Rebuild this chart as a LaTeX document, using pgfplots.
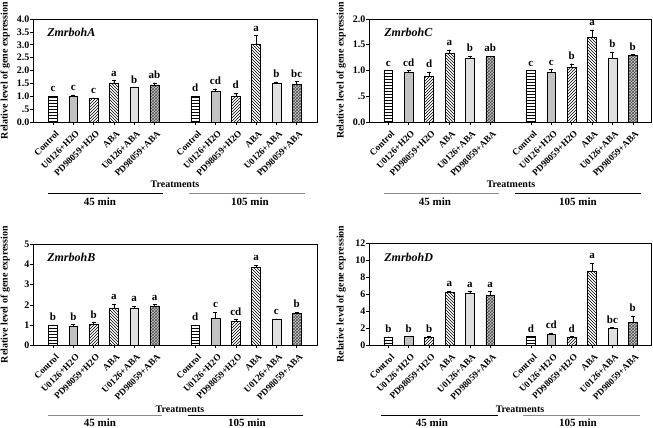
\documentclass[border=0pt]{standalone}
\usepackage{fontspec}
\setmainfont{Liberation Serif}
\usepackage{pgfplots}
\pgfplotsset{compat=1.18}
\usetikzlibrary{patterns}

\newcommand\fTick{\fontsize{10}{11}\selectfont\bfseries}
\newcommand\fCat{\fontsize{9.2}{10}\selectfont\bfseries}
\newcommand\fLab{\fontsize{10}{11}\selectfont\bfseries}
\newcommand\fLet{\fontsize{11}{12}\selectfont\bfseries}
\newcommand\fTit{\fontsize{12}{13}\selectfont\bfseries\itshape}
\newcommand\fMin{\fontsize{11}{12}\selectfont\bfseries}

\pgfplotsset{
  panel/.style={
    scale only axis, anchor=south west, ybar, bar width=0.43, bar shift=0pt,
    axis line style={line width=0.6pt},
    tick pos=left, tick align=outside, major tick length=3pt,
    tick style={line width=0.5pt, black},
    xtick={0,1,2,3,4,5,7,8,9,10,11,12},
    xticklabels={Control,U0126+H2O,PD98059+H2O,ABA,U0126+ABA,PD98059+ABA,
                 Control,U0126+H2O,PD98059+H2O,ABA,U0126+ABA,PD98059+ABA},
    xticklabel style={font=\fCat, xshift=2pt, yshift=-5pt, rotate=45, anchor=north east, inner sep=0pt},
    yticklabel style={font=\fTick, inner sep=0.5pt},
    ylabel={Relative level of gene expression},
    every axis y label/.style={at={(rel axis cs:0,0.5)}, rotate=90, anchor=south, yshift=23pt, font=\fLab, inner sep=0pt},
    enlarge y limits=false, enlarge x limits=false,
    clip=false,
  },
  errb/.style={draw=black, line width=0.5pt,
    error bars/y dir=plus, error bars/y explicit,
    error bars/error bar style={line width=0.5pt, black},
    error bars/error mark options={rotate=90, mark size=2pt, line width=0.5pt, black}},
  ctrl/.style={errb, fill=white, postaction={pattern=horizontal lines}},
  uh/.style={errb, fill=black!24},
  ph/.style={errb, fill=white, postaction={pattern=north east lines}},
  aba/.style={errb, fill=white, postaction={pattern=north west lines}},
  ua/.style={errb, fill=black!12},
  pa/.style={errb, fill=black!20, postaction={pattern=crosshatch, pattern color=black!70}},
  letters/.style={only marks, mark=*, mark options={draw=none, fill=none, scale=0.01},
    nodes near coords, point meta=explicit symbolic,
    every node near coord/.style={font=\fLet, anchor=south, inner sep=0pt, yshift=4pt, black}},
}

\begin{document}
\begin{tikzpicture}[x=1pt,y=1pt]
\useasboundingbox (0pt,0pt) rectangle (653pt,428pt);

% ---------------- Panel A ----------------
\begin{axis}[panel, at={(33pt,306pt)}, width=284pt, height=103pt,
  xmin=-0.985, xmax=13.0, ymin=0, ymax=4,
  ytick={0,0.5,1,1.5,2,2.5,3,3.5,4},
  yticklabels={0.0,.5,1.0,1.5,2.0,2.5,3.0,3.5,4.0}]
\addplot[ctrl] coordinates {(0,1.00) +- (0,0) (7,1.00) +- (0,0)};
\addplot[uh]   coordinates {(1,1.00) +- (0,0.05) (8,1.20) +- (0,0.09)};
\addplot[ph]   coordinates {(2,0.91) +- (0,0.02) (9,0.99) +- (0,0.13)};
\addplot[aba]  coordinates {(3,1.52) +- (0,0.09) (10,3.03) +- (0,0.32)};
\addplot[ua]   coordinates {(4,1.33) +- (0,0.01) (11,1.52) +- (0,0.04)};
\addplot[pa]   coordinates {(5,1.44) +- (0,0.08) (12,1.45) +- (0,0.13)};
\addplot[letters] table[x=x, y expr=\thisrow{y}+\thisrow{e}, meta=lab] {
x y e lab
0 1.00 0 c
1 1.00 0.05 c
2 0.91 0.02 c
3 1.52 0.09 a
4 1.33 0.01 b
5 1.44 0.08 ab
7 1.00 0 d
8 1.20 0.09 cd
9 0.99 0.13 d
10 3.03 0.32 a
11 1.52 0.04 b
12 1.45 0.13 bc
};
\node[anchor=west, font=\fTit] at (rel axis cs:0.038,0.87) {ZmrbohA};
\end{axis}
\node[font=\fLab] at (175pt,244pt) {Treatments};
\draw[line width=0.8pt] (48pt,235pt) -- (163pt,235pt);
\draw[line width=0.8pt, black!45] (189pt,235pt) -- (305pt,235pt);
\node[font=\fMin] at (100pt,226pt) {45 min};
\node[font=\fMin] at (250pt,226pt) {105 min};

% ---------------- Panel C ----------------
\begin{axis}[panel, at={(369pt,306pt)}, width=282.7pt, height=103pt,
  xmin=-0.95, xmax=12.93, ymin=0, ymax=2,
  ytick={0,0.5,1,1.5,2},
  yticklabels={0.0,.5,1.0,1.5,2.0}]
\addplot[ctrl] coordinates {(0,1.00) +- (0,0) (7,1.00) +- (0,0)};
\addplot[uh]   coordinates {(1,0.97) +- (0,0.03) (8,0.96) +- (0,0.06)};
\addplot[ph]   coordinates {(2,0.89) +- (0,0.08) (9,1.06) +- (0,0.07)};
\addplot[aba]  coordinates {(3,1.34) +- (0,0.06) (10,1.65) +- (0,0.14)};
\addplot[ua]   coordinates {(4,1.23) +- (0,0.05) (11,1.24) +- (0,0.12)};
\addplot[pa]   coordinates {(5,1.27) +- (0,0.01) (12,1.30) +- (0,0.01)};
\addplot[letters] table[x=x, y expr=\thisrow{y}+\thisrow{e}, meta=lab] {
x y e lab
0 1.00 0 c
1 0.97 0.03 cd
2 0.89 0.08 d
3 1.34 0.06 a
4 1.23 0.05 b
5 1.27 0.01 ab
7 1.00 0 c
8 0.96 0.06 c
9 1.06 0.07 b
10 1.65 0.14 a
11 1.24 0.12 b
12 1.30 0.01 b
};
\node[anchor=west, font=\fTit] at (rel axis cs:0.042,0.87) {ZmrbohC};
\end{axis}
\node[font=\fLab] at (511pt,244pt) {Treatments};
\draw[line width=0.8pt, black!45] (384pt,235pt) -- (499pt,235pt);
\draw[line width=0.8pt] (515pt,235pt) -- (641pt,235pt);
\node[font=\fMin] at (435pt,226pt) {45 min};
\node[font=\fMin] at (578pt,226pt) {105 min};

% ---------------- Panel B ----------------
\begin{axis}[panel, at={(33pt,82.7pt)}, width=284pt, height=101.3pt,
  xmin=-0.985, xmax=13.0, ymin=0, ymax=5,
  ytick={0,1,2,3,4,5},
  yticklabels={0,1,2,3,4,5}]
\addplot[ctrl] coordinates {(0,1.00) +- (0,0) (7,1.00) +- (0,0)};
\addplot[uh]   coordinates {(1,0.92) +- (0,0.10) (8,1.33) +- (0,0.30)};
\addplot[ph]   coordinates {(2,1.05) +- (0,0.08) (9,1.17) +- (0,0.10)};
\addplot[aba]  coordinates {(3,1.84) +- (0,0.20) (10,3.85) +- (0,0.10)};
\addplot[ua]   coordinates {(4,1.81) +- (0,0.12) (11,1.28) +- (0,0.02)};
\addplot[pa]   coordinates {(5,1.94) +- (0,0.08) (12,1.58) +- (0,0.05)};
\addplot[letters] table[x=x, y expr=\thisrow{y}+\thisrow{e}, meta=lab] {
x y e lab
0 1.00 0 b
1 0.92 0.10 b
2 1.05 0.08 b
3 1.84 0.20 a
4 1.81 0.12 a
5 1.94 0.08 a
7 1.00 0 d
8 1.33 0.30 c
9 1.17 0.10 cd
10 3.85 0.10 a
11 1.28 0.02 c
12 1.58 0.05 b
};
\node[anchor=west, font=\fTit] at (rel axis cs:0.038,0.87) {ZmrbohB};
\end{axis}
\node[font=\fLab] at (180pt,19pt) {Treatments};
\draw[line width=0.8pt, black!45] (48pt,13pt) -- (162pt,13pt);
\draw[line width=0.8pt] (188pt,13pt) -- (303pt,13pt);
\node[font=\fMin] at (100pt,5pt) {45 min};
\node[font=\fMin] at (247pt,5pt) {105 min};

% ---------------- Panel D ----------------
\begin{axis}[panel, at={(369pt,82.7pt)}, width=282.7pt, height=102.3pt,
  xmin=-0.95, xmax=12.93, ymin=0, ymax=12,
  ytick={0,2,4,6,8,10,12},
  yticklabels={0,2,4,6,8,10,12}]
\addplot[ctrl] coordinates {(0,1.00) +- (0,0) (7,1.05) +- (0,0)};
\addplot[uh]   coordinates {(1,1.02) +- (0,0.03) (8,1.29) +- (0,0.15)};
\addplot[ph]   coordinates {(2,0.94) +- (0,0.10) (9,0.94) +- (0,0.10)};
\addplot[aba]  coordinates {(3,6.25) +- (0,0.10) (10,8.71) +- (0,0.93)};
\addplot[ua]   coordinates {(4,6.10) +- (0,0.20) (11,1.99) +- (0,0.08)};
\addplot[pa]   coordinates {(5,5.86) +- (0,0.45) (12,2.70) +- (0,0.74)};
\addplot[letters] table[x=x, y expr=\thisrow{y}+\thisrow{e}, meta=lab] {
x y e lab
0 1.00 0 b
1 1.02 0.03 b
2 0.94 0.10 b
3 6.25 0.10 a
4 6.10 0.20 a
5 5.86 0.45 a
7 1.05 0 d
8 1.29 0.15 cd
9 0.94 0.10 d
10 8.71 0.93 a
11 1.99 0.08 bc
12 2.70 0.74 b
};
\node[anchor=west, font=\fTit] at (rel axis cs:0.042,0.86) {ZmrbohD};
\end{axis}
\node[font=\fLab] at (520pt,19pt) {Treatments};
\draw[line width=0.8pt] (381pt,13pt) -- (498pt,13pt);
\draw[line width=0.8pt, black!45] (523pt,13pt) -- (640pt,13pt);
\node[font=\fMin] at (432pt,5pt) {45 min};
\node[font=\fMin] at (578pt,5pt) {105 min};
\end{tikzpicture}
\end{document}
